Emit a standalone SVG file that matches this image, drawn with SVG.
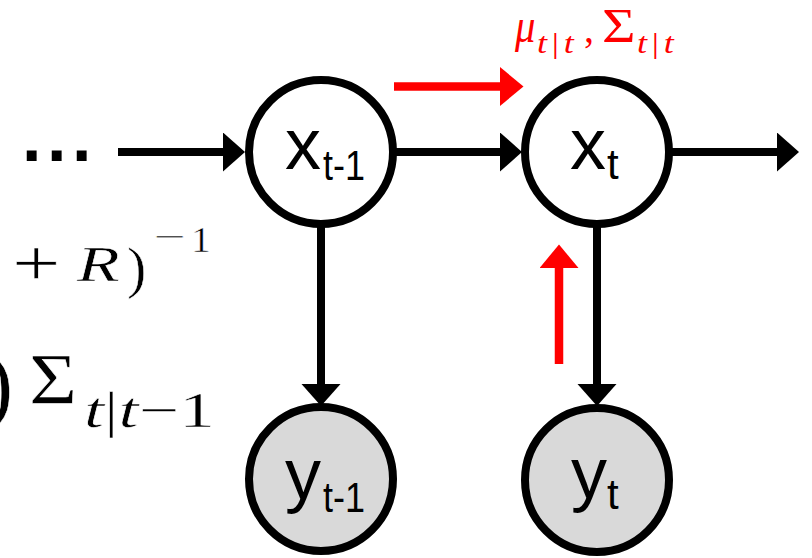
<svg xmlns="http://www.w3.org/2000/svg" width="812" height="558" viewBox="0 0 812 558">
  <style>
    .node-x { fill: #ffffff; stroke: #000000; stroke-width: 8; }
    .node-y { fill: #d9d9d9; stroke: #000000; stroke-width: 8; }
    .lbl { font-family: "Liberation Sans", Arial, sans-serif; font-size: 72px; fill: #000000; }
    .sub { font-size: 42px; }
    .edge { stroke: #000000; stroke-width: 8; fill: none; }
    .edge-red { stroke: #ff0000; stroke-width: 8.5; fill: none; }
    .math { font-family: "Liberation Serif", "Times New Roman", serif; font-weight: normal; fill: #000000; stroke: #ffffff; stroke-width: 0.5px; }
    .mred { font-family: "Liberation Serif", "Times New Roman", serif; font-weight: normal; fill: #ff0000; }
    .it { font-style: italic; }
    .dots { font-family: "Liberation Sans", Arial, sans-serif; font-weight: bold; font-size: 70px; letter-spacing: 5.5px; fill: #000000; }
  </style>
  <defs>
    <marker id="ah" markerUnits="userSpaceOnUse" markerWidth="23" markerHeight="40" viewBox="0 0 23 40" refX="0" refY="19.5" orient="auto">
      <path d="M0,0 L22,19.5 L0,39 Z" fill="#000000"/>
    </marker>
    <marker id="ahr" markerUnits="userSpaceOnUse" markerWidth="24" markerHeight="40" viewBox="0 0 24 40" refX="0" refY="19.5" orient="auto">
      <path d="M0,0 L23.5,19.5 L0,39 Z" fill="#ff0000"/>
    </marker>
  </defs>

  <!-- left-side cropped equations -->
  <g id="eq-left">
    <text class="math" style="font-size:66px" transform="translate(12,285) scale(1.3,1)">+</text>
    <text class="math it" style="font-size:50px" transform="translate(77,281) scale(1.4,1)">R</text>
    <text class="math" style="font-size:58px" transform="translate(127,287)">)</text>
    <text class="math" style="font-size:34px" transform="translate(153,248) scale(1.7,1)">−</text>
    <text class="math" style="font-size:36px" transform="translate(191,252) scale(1.1,1)">1</text>
    <text class="math" style="font-size:88px" transform="translate(-16,414)">)</text>
    <text class="math" style="font-size:72px" transform="translate(29,403) scale(1.15,1)">Σ</text>
    <text class="math" style="font-size:50px" transform="translate(84,427) scale(1.44,1)"><tspan class="it">t</tspan>|<tspan class="it">t</tspan>−1</text>
  </g>

  <!-- red annotation -->
  <g id="eq-red">
    <text class="mred it" style="font-size:48px" transform="translate(515,42) scale(0.85,1)">μ</text>
    <text class="mred" style="font-size:30px;letter-spacing:4px" transform="translate(537,53) scale(1.2,1)"><tspan class="it">t</tspan>|<tspan class="it">t</tspan></text>
    <text class="mred" style="font-size:40px" transform="translate(584,42)">,</text>
    <text class="mred" style="font-size:48px" transform="translate(602,42) scale(1.2,1)">Σ</text>
    <text class="mred" style="font-size:30px;letter-spacing:4px" transform="translate(637,53) scale(1.2,1)"><tspan class="it">t</tspan>|<tspan class="it">t</tspan></text>
  </g>

  <g id="dots">
    <text class="dots" x="22" y="161">...</text>
  </g>

  <!-- connectors -->
  <g id="connectors">
    <line class="edge" x1="118" y1="152" x2="223" y2="152" marker-end="url(#ah)"/>
    <line class="edge" x1="395" y1="152" x2="500" y2="152" marker-end="url(#ah)"/>
    <line class="edge" x1="671" y1="152" x2="777" y2="152" marker-end="url(#ah)"/>
    <line class="edge" x1="321" y1="226" x2="321" y2="384" marker-end="url(#ah)"/>
    <line class="edge" x1="597" y1="226" x2="597" y2="384" marker-end="url(#ah)"/>
    <line class="edge-red" x1="394" y1="86.5" x2="500" y2="86.5" marker-end="url(#ahr)"/>
    <line class="edge-red" x1="559" y1="364" x2="559" y2="268" marker-end="url(#ahr)"/>
  </g>

  <!-- nodes -->
  <g id="node-x-t-1">
    <circle class="node-x" cx="321" cy="152" r="72"/>
    <text class="lbl" x="285" y="169">x<tspan class="sub" x="323" y="180" textLength="42" lengthAdjust="spacingAndGlyphs">t-1</tspan></text>
  </g>
  <g id="node-x-t">
    <circle class="node-x" cx="597" cy="152" r="72"/>
    <text class="lbl" x="570" y="169">x<tspan class="sub" x="607" y="179">t</tspan></text>
  </g>
  <g id="node-y-t-1">
    <circle class="node-y" cx="321" cy="479" r="72"/>
    <text class="lbl" x="285" y="499">y<tspan class="sub" x="323" y="512" textLength="42" lengthAdjust="spacingAndGlyphs">t-1</tspan></text>
  </g>
  <g id="node-y-t">
    <circle class="node-y" cx="597" cy="480" r="72"/>
    <text class="lbl" x="571" y="498">y<tspan class="sub" x="607" y="509">t</tspan></text>
  </g>
</svg>
